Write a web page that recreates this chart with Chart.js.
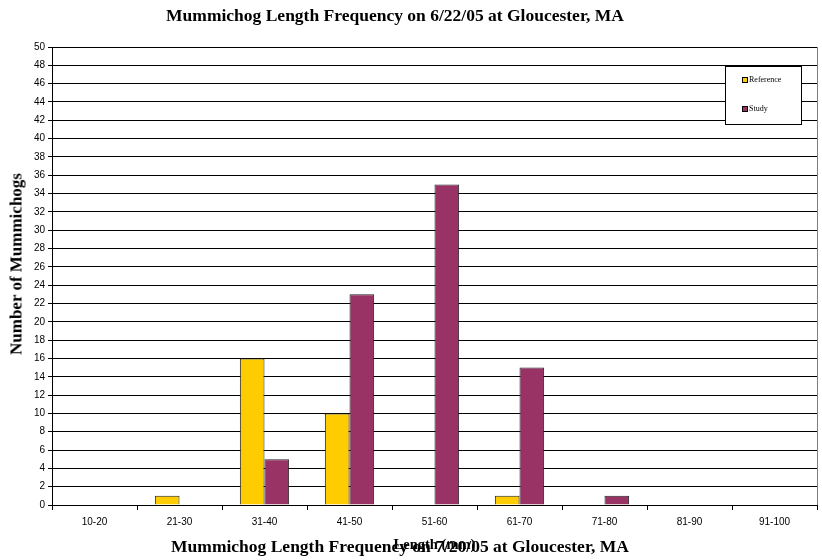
<!DOCTYPE html>
<html>
<head>
<meta charset="utf-8">
<script src="https://cdn.jsdelivr.net/npm/chart.js@4.4.1/dist/chart.umd.min.js"></script>
<style>
  html, body { margin: 0; padding: 0; background: #fff; }
  #wrap { position: relative; width: 822px; height: 560px; }
  canvas { position: absolute; left: 0; top: 0; }
  .ttl { position: absolute; font-family: "Liberation Serif", "Times New Roman", serif; font-weight: bold; color: #000; white-space: nowrap; transform: translateX(-50%); line-height: 1; }
  .ytl { position: absolute; left: 16px; top: 264px; font-family: "Liberation Serif", "Times New Roman", serif; font-weight: bold; font-size: 17px; line-height: 1; color: #000; white-space: nowrap; transform: translate(-50%, -50%) rotate(-90deg); }
</style>
</head>
<body>
<div id="wrap">
  <canvas id="c" width="822" height="560"></canvas>
  <div class="ttl" style="left:395px; top:7px; font-size:17.5px;">Mummichog Length Frequency on 6/22/05 at Gloucester, MA</div>
  <div class="ytl">Number of Mummichogs</div>
  <div class="ttl" style="left:400px; top:538px; font-size:17.5px;">Mummichog Length Frequency on 7/20/05 at Gloucester, MA</div>
</div>
<script>
// Length classes (mm) and fish counts per site
const lengthClasses = ['10-20', '21-30', '31-40', '41-50', '51-60', '61-70', '71-80', '81-90', '91-100'];
const referenceCounts = [0, 1, 16, 10, 0, 1, 0, 0, 0];
const studyCounts = [0, 0, 5, 23, 35, 15, 1, 0, 0];
const seriesNames = ['Reference', 'Study'];
const seriesColors = ['#FFCC00', '#993366'];

// Boxed legend in the upper right plus the grey right frame of the plot
const boxLegend = {
  id: 'boxLegend',
  afterDraw(chart) {
    const ctx = chart.ctx;
    const a = chart.chartArea;
    ctx.save();
    ctx.strokeStyle = '#808080';
    ctx.lineWidth = 1;
    ctx.beginPath();
    ctx.moveTo(Math.round(a.right) + 0.5, a.top);
    ctx.lineTo(Math.round(a.right) + 0.5, a.bottom);
    ctx.stroke();

    const x = 725.5, y = 66.5, w = 76, h = 58;
    ctx.fillStyle = '#fff';
    ctx.fillRect(x, y, w, h);
    ctx.strokeStyle = '#000';
    ctx.strokeRect(x, y, w, h);
    ctx.font = '8px "Liberation Serif", serif';
    ctx.textBaseline = 'middle';
    chart.data.datasets.forEach((ds, i) => {
      const cy = 80 + i * 29;
      ctx.fillStyle = ds.backgroundColor;
      ctx.fillRect(742, cy - 3, 6, 6);
      ctx.strokeStyle = '#000';
      ctx.strokeRect(742.5, cy - 2.5, 5, 5);
      ctx.fillStyle = '#000';
      ctx.fillText(ds.label, 749, cy);
    });
    ctx.restore();
  }
};

new Chart(document.getElementById('c'), {
  type: 'bar',
  data: {
    labels: lengthClasses,
    datasets: [
      { label: seriesNames[0], data: referenceCounts, backgroundColor: seriesColors[0], borderColor: '#222', borderWidth: 1 },
      { label: seriesNames[1], data: studyCounts, backgroundColor: seriesColors[1], borderColor: '#222', borderWidth: 1 }
    ]
  },
  options: {
    responsive: false,
    animation: false,
    layout: { padding: { top: 47, right: 5, left: 0, bottom: 0 } },
    datasets: { bar: { categoryPercentage: 0.58, barPercentage: 1.0 } },
    plugins: {
      legend: { display: false },
      tooltip: { enabled: false }
    },
    scales: {
      x: {
        grid: { display: true, drawOnChartArea: false, drawTicks: true, offset: true, tickLength: 5, color: '#000' },
        border: { color: '#000', width: 1 },
        ticks: { color: '#000', font: { family: '"Liberation Sans", Arial, sans-serif', size: 10 }, padding: 6, maxRotation: 0 },
        title: { display: true, text: 'Length (mm)', color: '#000', font: { family: '"Liberation Serif", serif', size: 14.5, weight: 'bold' }, padding: { top: 4, bottom: 6 } },
        afterFit(s) { s.height = 55; }
      },
      y: {
        min: 0, max: 50,
        grid: { color: '#000', lineWidth: 1, tickLength: 4 },
        border: { color: '#000', width: 1 },
        ticks: { stepSize: 2, color: '#000', font: { family: '"Liberation Sans", Arial, sans-serif', size: 10 }, padding: 3 },
        afterFit(s) { s.width = 52; }
      }
    }
  },
  plugins: [boxLegend]
});
</script>
</body>
</html>
